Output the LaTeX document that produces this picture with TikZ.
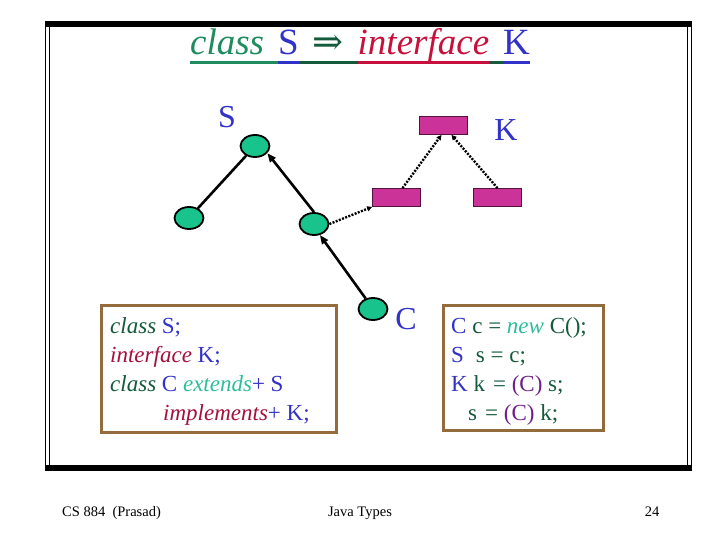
\documentclass[tikz,border=0pt]{standalone}
\usepackage{fontspec}
\setmainfont{Liberation Serif}
\newfontfamily\symf{DejaVu Serif}
\usetikzlibrary{arrows.meta,shapes.geometric}
\definecolor{tgreen}{RGB}{30,140,95}
\definecolor{dgreen}{RGB}{20,90,60}
\definecolor{tred}{RGB}{200,16,60}
\definecolor{bred}{RGB}{165,16,60}
\definecolor{tblue}{RGB}{50,50,200}
\definecolor{tteal}{RGB}{45,190,155}
\definecolor{tpurple}{RGB}{110,30,140}
\definecolor{nodegreen}{RGB}{25,195,140}
\definecolor{ifcmag}{RGB}{204,51,153}
\definecolor{boxbrown}{RGB}{148,108,60}
\newsavebox\myulbox
\newcommand{\myul}[2]{\sbox{\myulbox}{#2}\rlap{\color{#1}\rule[-9pt]{\wd\myulbox}{2.5pt}}\usebox{\myulbox}}
\newcommand{\kw}[2]{\textcolor{#1}{\itshape #2}}
\newcommand{\rc}[2]{\textcolor{#1}{#2}}
\newcommand{\tsp}{\hspace{14pt}}
\begin{document}
\begin{tikzpicture}[x=1pt,y=-1pt,
  cls/.style={ellipse, draw=black, line width=1.8pt, fill=nodegreen, minimum width=29pt, minimum height=22pt, inner sep=0pt},
  ifc/.style={rectangle, draw=black!60!ifcmag, line width=0.8pt, fill=ifcmag, minimum width=48pt, minimum height=18pt, inner sep=0pt},
  lbl/.style={font=\fontsize{32}{36}\selectfont, text=tblue, inner sep=0pt},
  solidedge/.style={line width=2.6pt, black},
  inh/.style={line width=2.6pt, black, -{Triangle[length=9pt,width=7pt]}},
  impl/.style={line width=2.4pt, black, dash pattern=on 2pt off 1.4pt, -{Triangle[length=5pt,width=5pt]}},
  codebox/.style={draw=boxbrown, line width=3pt, fill=white, inner sep=0pt},
  code/.style={anchor=base west, inner sep=0pt, font=\fontsize{23}{27}\selectfont},
  foot/.style={anchor=base, inner sep=0pt, font=\fontsize{14.5}{17}\selectfont}]
\useasboundingbox (0,0) rectangle (720,540);
\fill[white] (0,0) rectangle (720,540);
% frame
\fill[black] (45,21) rectangle (692,27);
\fill[black] (45,465) rectangle (692,471);
\draw[line width=1.5pt] (45.5,21) -- (45.5,471);
\draw[line width=1.5pt] (49.5,27) -- (49.5,465);
\draw[line width=1.5pt] (687.5,27) -- (687.5,465);
\draw[line width=1.5pt] (691.5,21) -- (691.5,471);
% title
\node (title) [anchor=base, inner sep=0pt, font=\fontsize{37}{42}\selectfont] at (360,55)
 {\myul{tgreen}{\kw{tgreen}{class}\tsp}\myul{tblue}{\rc{tblue}{S}}\myul{dgreen}{\tsp\rc{dgreen}{\symf ⇒}\tsp}\myul{tred}{\kw{tred}{interface}}\myul{dgreen}{\tsp}\myul{tblue}{\rc{tblue}{K}}};
% class nodes
\node (S) [cls] at (255,146) {};
\node (L) [cls] at (189,218) {};
\node (M) [cls] at (314,224) {};
\node (C) [cls] at (373,309) {};
% interface nodes
\node (IK) [ifc] at (443.5,125.5) {};
\node (IL) [ifc] at (396.5,197.5) {};
\node (IR) [ifc] at (497.5,197.5) {};
% labels
\node (labS) [lbl] at (227,117) {S};
\node (labK) [lbl] at (506,130) {K};
\node (labC) [lbl] at (406,319) {C};
% edges
\draw[solidedge] (S) -- (L);
\draw[inh] (M.north) -- (S.-30);
\draw[inh] (C.125) -- (M.-62);
\draw[impl] ([xshift=6pt]IL.north) -- ([xshift=-2pt]IK.south);
\draw[impl] (IR.north) -- ([xshift=8pt]IK.south);
\draw[impl] (M.east) -- (IL.south west);
% code boxes
\node (box1) [codebox, minimum width=235pt, minimum height=127pt] at (218.5,368.5) {};
\node (box2) [codebox, minimum width=160pt, minimum height=125pt] at (523,367.5) {};
\node (b1a) [code] at (110,333) {\kw{dgreen}{class} \rc{tblue}{S;}};
\node (b1b) [code] at (110,362) {\kw{bred}{interface} \rc{tblue}{K;}};
\node (b1c) [code] at (110,391) {\kw{dgreen}{class} \rc{tblue}{C} \kw{tteal}{extends}\rc{tblue}{+ S}};
\node (b1d) [code] at (163,420) {\kw{bred}{implements}\rc{tblue}{+ K;}};
\node (b2a) [code] at (451,333) {\rc{tblue}{C} \rc{dgreen}{c = }\kw{tteal}{new} \rc{dgreen}{C();}};
\node (b2b) [code] at (451,362) {\rc{tblue}{S}\hspace{12pt}\rc{dgreen}{s = c;}};
\node (b2c) [code] at (451,391) {\rc{tblue}{K} \rc{dgreen}{k\hspace{8pt}= }\rc{tpurple}{(C)} \rc{dgreen}{s;}};
\node (b2d) [code] at (468,420) {\rc{dgreen}{s\hspace{8pt}= }\rc{tpurple}{(C)} \rc{dgreen}{k;}};
% footer
\node (f1) [foot, anchor=base west] at (62,516) {CS 884\ \ (Prasad)};
\node (f2) [foot] at (360,516) {Java Types};
\node (f3) [foot] at (652,516) {24};
\end{tikzpicture}
\end{document}
